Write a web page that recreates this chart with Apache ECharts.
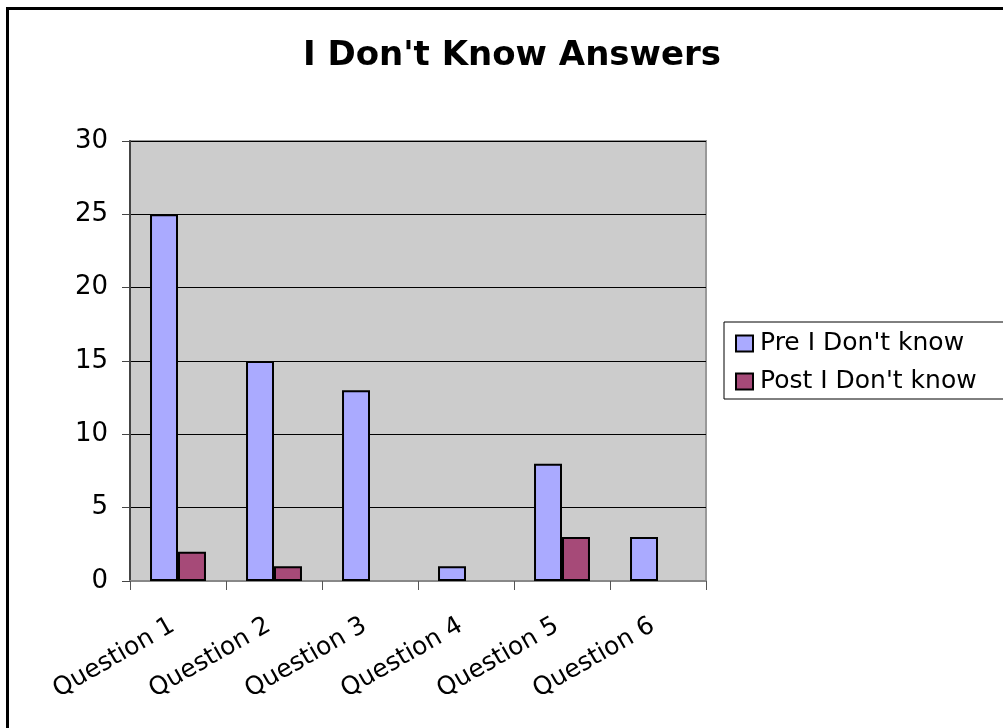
<!DOCTYPE html>
<html><head><meta charset="utf-8">
<script src="https://cdn.jsdelivr.net/npm/echarts@6/dist/echarts.min.js"></script>
<style>html,body{margin:0;padding:0;background:#fff;overflow:hidden}#c{width:1003px;height:728px}</style>
</head><body><div id="c"></div>
<script>
const categories = ['Question 1','Question 2','Question 3','Question 4','Question 5','Question 6'];
const preValues = [25, 15, 13, 1, 8, 3];
const postValues = [2, 1, 0, 0, 3, 0];
const seriesNames = ["Pre I Don't know", "Post I Don't know"];
const titleText = "I Don't Know Answers";

const font = 'DejaVu Sans';
const chart = echarts.init(document.getElementById('c'), null, {renderer:'canvas'});
function toData(arr){ return arr.map(v => v === 0 ? {value:v, itemStyle:{borderWidth:0}} : v); }
chart.setOption({
  animation:false,
  backgroundColor:'#fff',
  title:{text:titleText, left:507, top:34, textAlign:'center',
    textStyle:{fontFamily:font, fontWeight:'bold', fontSize:34, color:'#000'}},
  graphic:[{type:'rect', shape:{x:7.5,y:8.5,width:1200,height:1000}, style:{fill:'none', stroke:'#000', lineWidth:3}, z:100}],
  legend:{left:724, top:322, orient:'vertical', padding:[9,40,5,11], itemGap:13,
    itemWidth:17, itemHeight:16, borderColor:'#000', borderWidth:1, backgroundColor:'#fff',
    textStyle:{fontFamily:font, fontSize:25, color:'#000', padding:[0,0,0,2]},
    icon:'rect',
    data:seriesNames},
  grid:{left:130, top:141, right:297, bottom:147, show:true, backgroundColor:'#cccccc', borderColor:'#999', borderWidth:2},
  xAxis:{type:'category', data:categories,
    axisLine:{lineStyle:{color:'#888', width:2}},
    axisTick:{show:true, length:9, lineStyle:{color:'#555'}},
    axisLabel:{rotate:30, fontFamily:font, fontSize:25, color:'#000', margin:40, padding:[0,6,0,0]}},
  yAxis:{type:'value', min:0, max:30, interval:5,
    axisLine:{show:true, lineStyle:{color:'#444', width:2}},
    axisTick:{show:true, length:8, lineStyle:{color:'#444'}},
    splitLine:{lineStyle:{color:'#000', width:1}},
    axisLabel:{fontFamily:font, fontSize:26, color:'#000', margin:22}},
  series:[
    {name:seriesNames[0], type:'bar', data:toData(preValues), barGap:'0%', barCategoryGap:'41.7%',
      itemStyle:{color:'#aaaaff', borderColor:'#000', borderWidth:2}},
    {name:seriesNames[1], type:'bar', data:toData(postValues),
      itemStyle:{color:'#a64a78', borderColor:'#000', borderWidth:2}}
  ]
});
</script></body></html>
